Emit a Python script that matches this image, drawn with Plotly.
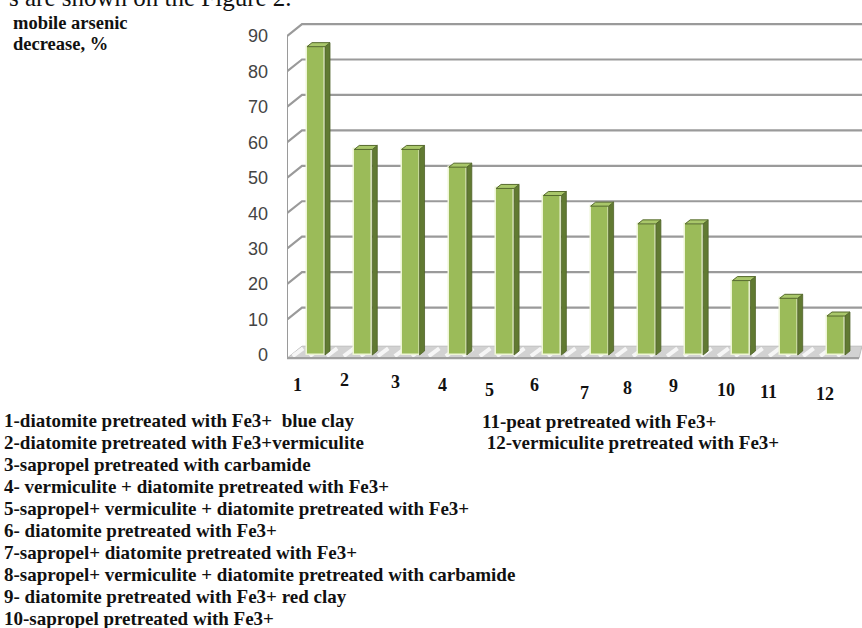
import plotly.graph_objects as go

# ---- data -------------------------------------------------------------
samples = list(range(1, 13))
decrease = [87, 58, 58, 53, 47, 45, 42, 37, 37, 21, 16, 11]
y_ticks = [0, 10, 20, 30, 40, 50, 60, 70, 80, 90]
tick_labels = ["1", "2", "3", "4", "5", "6", "7", "8", "9", "10", "11", "12"]
legend_left = [
    "1-diatomite pretreated with Fe3+\u00a0 blue clay",
    "2-diatomite pretreated with Fe3+vermiculite",
    "3-sapropel pretreated with carbamide",
    "4- vermiculite + diatomite pretreated with Fe3+",
    "5-sapropel+ vermiculite + diatomite pretreated with Fe3+",
    "6- diatomite pretreated with Fe3+",
    "7-sapropel+ diatomite pretreated with Fe3+",
    "8-sapropel+ vermiculite + diatomite pretreated with carbamide",
    "9- diatomite pretreated with Fe3+ red clay",
    "10-sapropel pretreated with Fe3+",
]
legend_right = [
    "11-peat pretreated with Fe3+",
    "\u00a012-vermiculite pretreated with Fe3+",
]

# ---- geometry / style -------------------------------------------------
FIG_W, FIG_H = 862, 628
PLOT_L = 287                      # left wall front edge (px)
X1_PX, PX_PER_CAT = 316, 47.27    # centre of first column, spacing
Y0_PX, PX_PER_UNIT = 355, 3.544   # value 0 position, px per percent

x_range = [1 + (PLOT_L - X1_PX) / PX_PER_CAT, 1 + (FIG_W - X1_PX) / PX_PER_CAT]
y_range = [(Y0_PX - FIG_H) / PX_PER_UNIT, Y0_PX / PX_PER_UNIT]

WALL_DX = 15 / PX_PER_CAT     # depth of the 3-D walls
WALL_DY = 12 / PX_PER_UNIT
BAR_DX = 5 / PX_PER_CAT       # depth of each column
BAR_DY = 4 / PX_PER_UNIT
BAR_W = 18 / PX_PER_CAT
FLOOR_FRONT = -0.9

FRONT = "#9bbb59"
SIDE = "#617a32"
TOP = "#a9c76a"
GRID = "#9a9a9a"

# label offsets (px) relative to each column centre, and baseline heights
label_dx = [-19, -19, -15, -15, -16, -18, -15, -19, -21, -15, -20, -11]
label_y = [385, 380, 382, 385, 390, 385, 393, 388, 386, 390, 392, 394]


def px_x(p):
    return (p - PLOT_L) / (FIG_W - PLOT_L)


def px_y(p):
    return 1 - p / FIG_H


xl, xr = x_range
shapes = []

# back-wall gridlines with their slanted left-wall segments
for v in y_ticks[1:]:
    shapes.append(dict(
        type="path", layer="below",
        path=f"M {xl},{v} L {xl + WALL_DX},{v + WALL_DY} L {xr},{v + WALL_DY}",
        line=dict(color=GRID, width=2.2),
    ))

# left wall front edge
shapes.append(dict(type="line", layer="below", x0=xl, x1=xl,
                   y0=FLOOR_FRONT, y1=y_ticks[-1],
                   line=dict(color=GRID, width=2)))

# floor
fb = FLOOR_FRONT + WALL_DY
shapes.append(dict(
    type="path", layer="below",
    path=f"M {xl},{FLOOR_FRONT} L {xl + WALL_DX},{fb} L {xr},{fb} "
         f"L {xr - WALL_DX * 0.2},{FLOOR_FRONT} Z",
    fillcolor="#d2d2d2", line=dict(color="#bdbdbd", width=1),
))
# light diagonal streaks across the floor
s = xl + 0.12
while s < xr - WALL_DX:
    shapes.append(dict(type="line", layer="below",
                       x0=s, y0=FLOOR_FRONT + 0.6, x1=s + WALL_DX * 0.7,
                       y1=fb - 0.6,
                       line=dict(color="rgba(255,255,255,0.8)", width=4)))
    s += 0.36
# floor front edge
shapes.append(dict(type="line", layer="below", x0=xl, x1=xr - WALL_DX * 0.2,
                   y0=FLOOR_FRONT, y1=FLOOR_FRONT,
                   line=dict(color="#a0a0a0", width=2.2)))

fig = go.Figure()

# column front faces
fig.add_trace(go.Bar(
    x=samples, y=decrease, width=BAR_W,
    marker=dict(color=FRONT, line=dict(color="#eef5d6", width=1.5)),
    hoverinfo="x+y", showlegend=False,
))

# column side and top faces
side_x, side_y, top_x, top_y = [], [], [], []
for c, v in zip(samples, decrease):
    r = c + BAR_W / 2
    l = c - BAR_W / 2
    side_x += [r, r + BAR_DX, r + BAR_DX, r, r, None]
    side_y += [0, BAR_DY, v + BAR_DY, v, 0, None]
    top_x += [l, l + BAR_DX, r + BAR_DX, r, l, None]
    top_y += [v, v + BAR_DY, v + BAR_DY, v, v, None]

fig.add_trace(go.Scatter(x=side_x, y=side_y, mode="lines", fill="toself",
                         fillcolor=SIDE, line=dict(color="#4f6228", width=0.8),
                         hoverinfo="skip", showlegend=False))
fig.add_trace(go.Scatter(x=top_x, y=top_y, mode="lines", fill="toself",
                         fillcolor=TOP, line=dict(color="#55692c", width=1),
                         hoverinfo="skip", showlegend=False))

annotations = []
serif = "Liberation Serif"

# category labels under the columns
for c, t, dx, py in zip(samples, tick_labels, label_dx, label_y):
    annotations.append(dict(
        x=c, xref="x", y=px_y(py), yref="paper", xshift=dx,
        text=f"<b>{t}</b>", showarrow=False, xanchor="center", yanchor="middle",
        font=dict(family=serif, size=18, color="#111111"),
    ))

# axis title
for t, py in [("mobile arsenic", 23), ("decrease, %", 44)]:
    annotations.append(dict(
        x=px_x(11), xref="paper", y=px_y(py), yref="paper",
        text=f"<b>{t}</b>", showarrow=False, xanchor="left", yanchor="middle",
        font=dict(family=serif, size=18.5, color="#111111"),
    ))

# sample key
for i, t in enumerate(legend_left):
    annotations.append(dict(
        x=px_x(2), xref="paper", y=px_y(420 + 22.1 * i), yref="paper",
        text=f"<b>{t}</b>", showarrow=False, xanchor="left", yanchor="middle",
        font=dict(family=serif, size=19, color="#111111"),
    ))
for i, t in enumerate(legend_right):
    annotations.append(dict(
        x=px_x(480), xref="paper", y=px_y(421 + 21 * i), yref="paper",
        text=f"<b>{t}</b>", showarrow=False, xanchor="left", yanchor="middle",
        font=dict(family=serif, size=19, color="#111111"),
    ))

# running text above the figure (only its lower edge falls inside the page)
annotations.append(dict(
    x=px_x(294), xref="paper", y=px_y(13), yref="paper",
    text="s are shown on the Figure 2.", showarrow=False,
    xanchor="right", yanchor="bottom",
    font=dict(family=serif, size=25, color="#111111"),
))

fig.update_layout(
    width=FIG_W, height=FIG_H,
    margin=dict(l=PLOT_L, r=0, t=0, b=0, autoexpand=False),
    paper_bgcolor="white", plot_bgcolor="white",
    shapes=shapes, annotations=annotations,
    xaxis=dict(range=x_range, showgrid=False, zeroline=False,
               showticklabels=False, showline=False, fixedrange=True),
    yaxis=dict(range=y_range, showgrid=False, zeroline=False, showline=False,
               tickvals=y_ticks, ticktext=[str(v) for v in y_ticks],
               ticks="", ticklabelstandoff=18,
               tickfont=dict(family="Liberation Sans", size=18, color="#444444"),
               fixedrange=True),
    bargap=0,
)

fig.write_html("out.html")
